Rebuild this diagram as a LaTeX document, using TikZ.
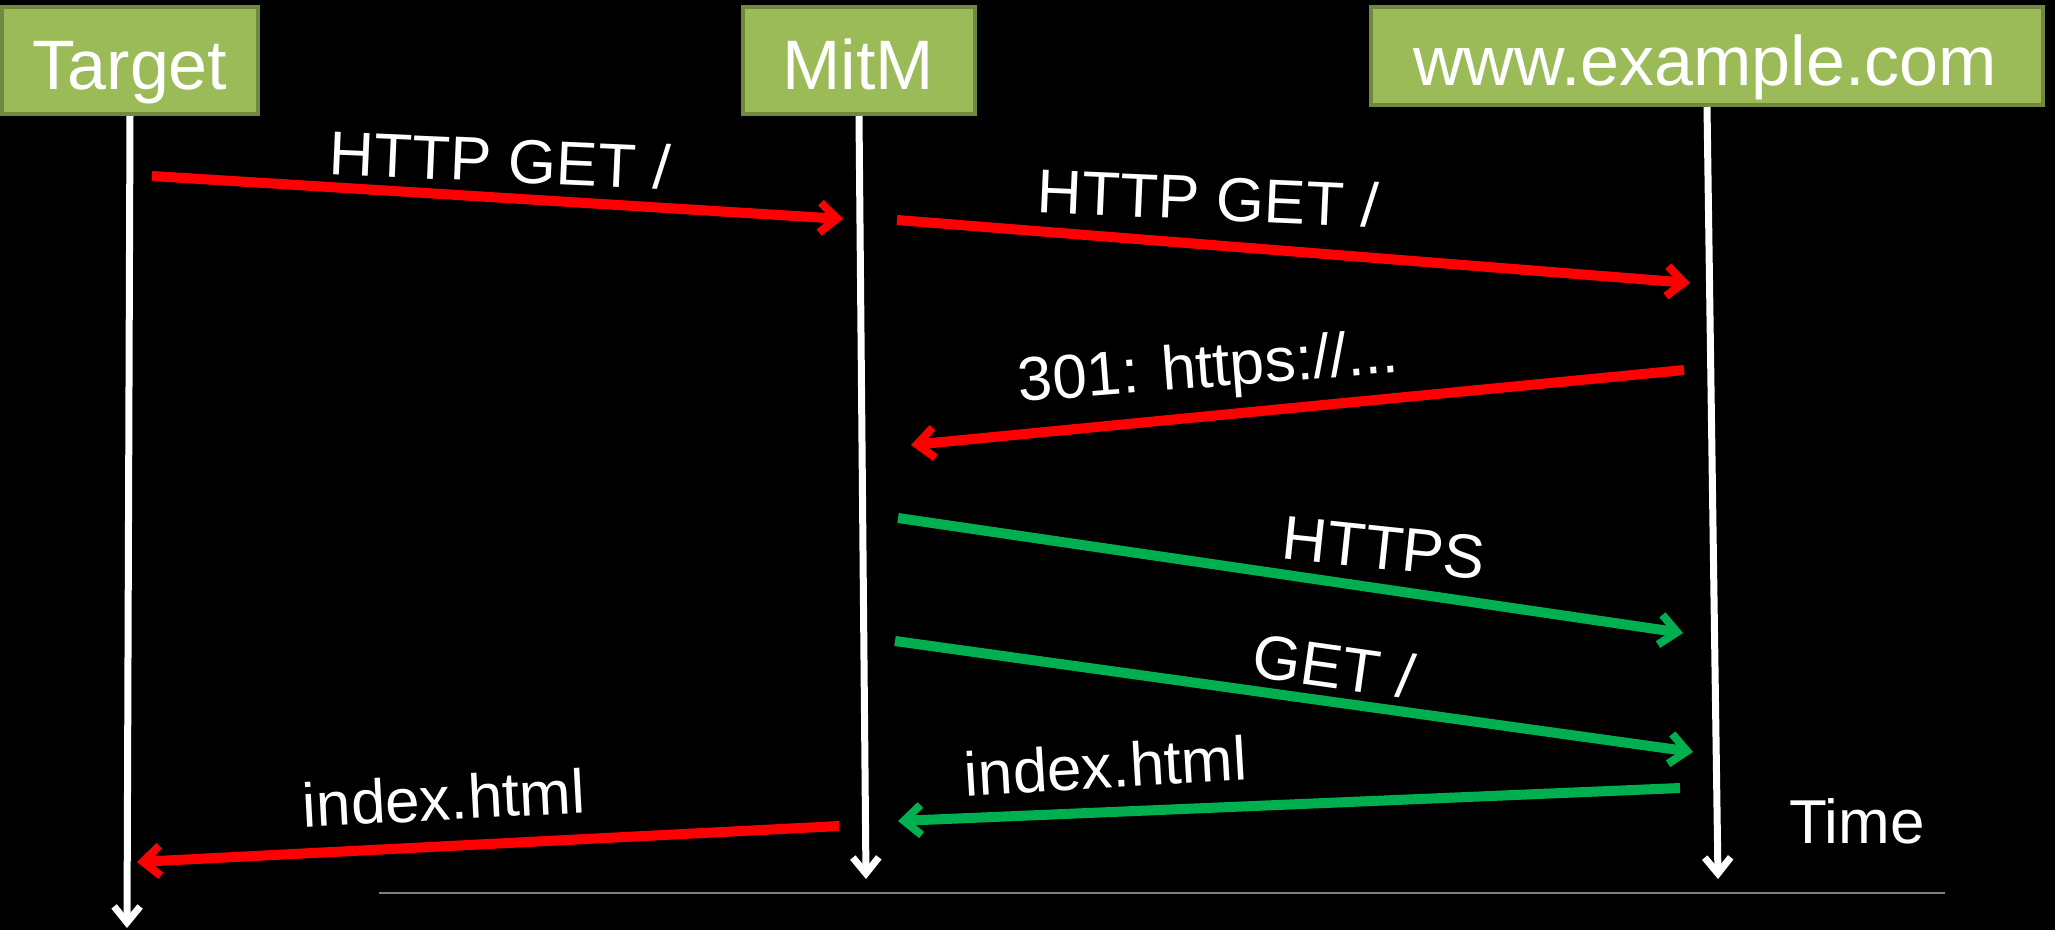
\documentclass[tikz,border=0pt]{standalone}
\usepackage{fontspec}
\setmainfont{Liberation Sans}
\usetikzlibrary{arrows.meta}
\definecolor{boxfill}{HTML}{9BBB59}
\definecolor{boxedge}{HTML}{71893F}
\definecolor{msgred}{HTML}{FF0000}
\definecolor{msggreen}{HTML}{00B050}
\definecolor{axisgray}{HTML}{808080}
\tikzset{
  actorbox/.style={draw=boxedge, fill=boxfill, line width=4pt, inner sep=0pt, rectangle},
  actorlbl/.style={text=white, anchor=base, inner sep=0pt, font=\fontsize{70}{80}\selectfont},
  lifeline/.style={draw=white, line width=7pt, -{Straight Barb[length=16pt,width=26pt,line width=7pt]}},
  redmsg/.style={draw=msgred, line width=10pt, -{Straight Barb[length=17pt,width=30pt,line width=8pt]}},
  greenmsg/.style={draw=msggreen, line width=10pt, -{Straight Barb[length=17pt,width=30pt,line width=8pt]}},
  msglbl/.style={text=white, anchor=base, inner sep=0pt, font=\fontsize{62}{72}\selectfont},
  axisline/.style={draw=axisgray, line width=2.5pt}
}
\begin{document}
\begin{tikzpicture}[x=1pt,y=-1pt]
\fill[black] (0,0) rectangle (2055,930);
\useasboundingbox (0,0) rectangle (2055,930);

% actor boxes
\node[actorbox, minimum width=256pt, minimum height=107pt] (target) at (130,60.5) {};
\node[actorbox, minimum width=232pt, minimum height=107pt] (mitm) at (859,60.5) {};
\node[actorbox, minimum width=672pt, minimum height=98pt] (www) at (1707,56) {};
\node[actorlbl] (targetlbl) at (130,89) {Target};
\node[actorlbl] (mitmlbl) at (858,89) {MitM};
\node[actorlbl] (wwwlbl) at (1705,85) {www.example.com};

% lifelines
\coordinate (targetend) at (127,928);
\coordinate (mitmend) at (866,879);
\coordinate (wwwend) at (1718,879);
\draw[lifeline] (target.south) -- (targetend);
\draw[lifeline] (mitm.south) -- (mitmend);
\draw[lifeline] (www.south) -- (wwwend);

% message end points
\coordinate (m1s) at (152,176);  \coordinate (m1e) at (843,219);
\coordinate (m2s) at (897,220);  \coordinate (m2e) at (1690,283);
\coordinate (m3s) at (1684,370); \coordinate (m3e) at (911,445);
\coordinate (m4s) at (898,518);  \coordinate (m4e) at (1683,633);
\coordinate (m5s) at (895,641);  \coordinate (m5e) at (1693,752);
\coordinate (m6s) at (1680,788); \coordinate (m6e) at (898,821);
\coordinate (m7s) at (839,826);  \coordinate (m7e) at (137,862);

\draw[redmsg] (m1s) -- (m1e);
\draw[redmsg] (m2s) -- (m2e);
\draw[redmsg] (m3s) -- (m3e);
\draw[greenmsg] (m4s) -- (m4e);
\draw[greenmsg] (m5s) -- (m5e);
\draw[greenmsg] (m6s) -- (m6e);
\draw[redmsg] (m7s) -- (m7e);

% labels
\node[msglbl, rotate=-2.5] (l1) at (499,182) {HTTP GET /};
\node[msglbl, rotate=-2.5] (l2) at (1207,220) {HTTP GET /};
\node[msglbl, rotate=4.5] (l3) at (1210,387) {301: https://...};
\node[msglbl, rotate=-6] (l4) at (1382,569) {HTTPS};
\node[msglbl, rotate=-8] (l5) at (1331,688) {GET /};
\node[msglbl, rotate=3.4] (l6) at (1107,788) {index.html};
\node[msglbl, rotate=3] (l7) at (445,820) {index.html};
\node[msglbl] (timelbl) at (1857,843) {Time};

% time axis
\coordinate (ax1) at (379,893);
\coordinate (ax2) at (1945,893);
\draw[axisline] (ax1) -- (ax2);
\end{tikzpicture}
\end{document}
